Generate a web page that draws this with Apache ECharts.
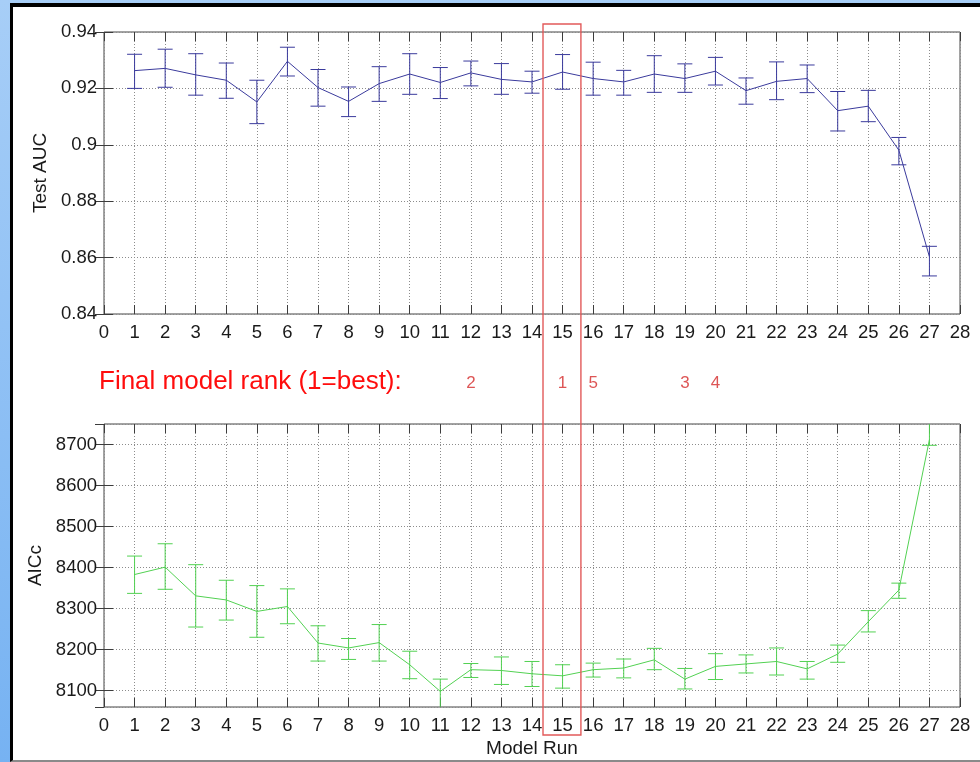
<!DOCTYPE html>
<html lang="en">
<head>
<meta charset="UTF-8">
<title>Model runs: Test AUC and AICc</title>
<style type="text/css">
  body {margin: 0px; background-color: #ffffff;}
  #frame {position: absolute; left: 0px; top: 0px; width: 980px; height: 762px;
    background: linear-gradient(to bottom, #a7cef7, #76b2f2);}
  #paper {position: absolute; left: 10px; top: 3px; width: 970px; height: 759px;
    box-sizing: border-box; background-color: #ffffff;
    border-left: 3px solid #000000; border-top: 4px solid #000000; border-bottom: 2px solid #8a8a8a;}
  #main {position: absolute; left: 0px; top: 0px; width: 980px; height: 762px;}
</style>
<script src="https://cdn.jsdelivr.net/npm/echarts@6/dist/echarts.min.js"></script>
</head>
<body>
<div id="frame"></div>
<div id="paper"></div>
<div id="main"></div>
<script type="text/javascript">
// model runs 1..27
var runs = [1, 2, 3, 4, 5, 6, 7, 8, 9, 10, 11, 12, 13, 14, 15, 16, 17, 18, 19, 20, 21, 22, 23, 24, 25, 26, 27];

// Test AUC (mean, lower and upper end of error bar)
var aucMean = [0.9263, 0.9271, 0.9248, 0.9229, 0.9152, 0.9296, 0.9203, 0.9154, 0.9217, 0.9251,
               0.9221, 0.9255, 0.9232, 0.9223, 0.9258, 0.9235, 0.9223, 0.9251, 0.9235, 0.9261,
               0.9192, 0.9225, 0.9235, 0.9121, 0.9137, 0.8981, 0.8603];
var aucLow  = [0.9200, 0.9204, 0.9176, 0.9165, 0.9075, 0.9244, 0.9137, 0.9100, 0.9154, 0.9179,
               0.9164, 0.9209, 0.9179, 0.9183, 0.9197, 0.9176, 0.9176, 0.9186, 0.9186, 0.9212,
               0.9144, 0.9160, 0.9185, 0.9049, 0.9082, 0.8929, 0.8535];
var aucHigh = [0.9321, 0.9339, 0.9323, 0.9290, 0.9229, 0.9346, 0.9267, 0.9205, 0.9277, 0.9323,
               0.9274, 0.9297, 0.9288, 0.9261, 0.9320, 0.9293, 0.9264, 0.9316, 0.9287, 0.9310,
               0.9237, 0.9294, 0.9283, 0.9189, 0.9193, 0.9026, 0.8640];

// AICc (mean, lower and upper end of error bar)
var aicMean = [8383, 8401, 8331, 8321, 8293, 8305, 8216, 8204, 8217, 8163,
               8098, 8151, 8149, 8141, 8136, 8151, 8155, 8175, 8128, 8159,
               8165, 8171, 8153, 8189, 8268, 8345, 8712];
var aicLow  = [8337, 8347, 8255, 8272, 8230, 8263, 8172, 8176, 8172, 8129,
               8058, 8132, 8115, 8110, 8106, 8133, 8131, 8151, 8104, 8127,
               8143, 8138, 8128, 8169, 8243, 8325, 8698];
var aicHigh = [8428, 8458, 8407, 8369, 8356, 8348, 8258, 8227, 8261, 8196,
               8128, 8166, 8182, 8171, 8163, 8167, 8177, 8203, 8154, 8190,
               8187, 8204, 8171, 8211, 8295, 8362, 8770];

// final model rank written under the runs
var rankRuns = [12, 15, 16, 19, 20];
var rankLabels = ['2', '1', '5', '3', '4'];

var FONT = 'Liberation Sans';
var blue = '#3a3a9c';
var green = '#52d152';

function pairs(xs, ys) {
    var out = [];
    for (var i = 0; i < xs.length; i++) out.push([xs[i], ys[i]]);
    return out;
}
function triples(xs, lo, hi) {
    var out = [];
    for (var i = 0; i < xs.length; i++) out.push([xs[i], lo[i], hi[i]]);
    return out;
}

function errorBar(color) {
    return function (params, api) {
        var x = api.value(0);
        var lo = api.coord([x, api.value(1)]);
        var hi = api.coord([x, api.value(2)]);
        var cs = params.coordSys;
        var top = cs.y, bottom = cs.y + cs.height;
        var half = 7.5;
        var st = {stroke: color, lineWidth: 1};
        var kids = [{type: 'line', shape: {x1: lo[0], y1: Math.max(hi[1], top), x2: lo[0], y2: Math.min(lo[1], bottom)}, style: st}];
        if (hi[1] >= top) kids.push({type: 'line', shape: {x1: hi[0] - half, y1: hi[1], x2: hi[0] + half, y2: hi[1]}, style: st});
        if (lo[1] <= bottom) kids.push({type: 'line', shape: {x1: lo[0] - half, y1: lo[1], x2: lo[0] + half, y2: lo[1]}, style: st});
        return {type: 'group', children: kids};
    };
}

var labelStyle = {fontFamily: FONT, fontSize: 18.5, color: '#1a1a1a'};
var dots = {show: true, lineStyle: {color: '#8c8c8c', type: [1, 2], width: 1}};
var tick = {show: true, inside: true, length: 9, lineStyle: {color: '#3c3c3c'}};

function xMain(grid, extra) {
    var a = {type: 'value', gridIndex: grid, min: 0, max: 28, interval: 1, position: 'bottom',
        axisLine: {show: false}, axisTick: tick, splitLine: dots,
        axisLabel: Object.assign({margin: 9}, labelStyle)};
    return Object.assign(a, extra || {});
}
function xTop(grid) {
    return {type: 'value', gridIndex: grid, min: 0, max: 28, interval: 1, position: 'top',
        axisLine: {show: false}, axisTick: tick, splitLine: {show: false}, axisLabel: {show: false}};
}
function yRight(grid, lo, hi, step) {
    var a = {type: 'value', gridIndex: grid, min: lo, max: hi, position: 'right',
        axisLine: {show: false}, axisTick: tick, splitLine: {show: false}, axisLabel: {show: false}};
    if (step) a.interval = step; else { a.minInterval = 100; a.maxInterval = 100; }
    return a;
}

var chart = echarts.init(document.getElementById('main'), null, {renderer: 'canvas'});

var option = {
    backgroundColor: 'transparent',
    animation: false,
    grid: [
        {left: 104, top: 32, width: 856, height: 282, show: true, borderColor: '#444', borderWidth: 1, backgroundColor: 'transparent'},
        {left: 104, top: 424, width: 856, height: 283, show: true, borderColor: '#444', borderWidth: 1, backgroundColor: 'transparent'},
        {left: 104, top: 365, width: 856, height: 36, show: false}
    ],
    xAxis: [
        xMain(0),
        xTop(0),
        xMain(1, {name: 'Model Run', nameLocation: 'middle', nameGap: 32,
            nameTextStyle: {fontFamily: FONT, fontSize: 19, color: '#1a1a1a'}}),
        xTop(1),
        {type: 'value', gridIndex: 2, min: 0, max: 28, show: false}
    ],
    yAxis: [
        {type: 'value', gridIndex: 0, min: 0.84, max: 0.94, interval: 0.02, position: 'left',
            name: 'Test AUC', nameLocation: 'middle', nameGap: 53,
            nameTextStyle: {fontFamily: FONT, fontSize: 19, color: '#1a1a1a'},
            axisLine: {show: false}, axisTick: tick, splitLine: dots,
            axisLabel: Object.assign({margin: 7}, labelStyle)},
        yRight(0, 0.84, 0.94, 0.02),
        {type: 'value', gridIndex: 1, min: 8060, max: 8750, minInterval: 100, maxInterval: 100, position: 'left',
            name: 'AICc', nameLocation: 'middle', nameGap: 52,
            nameTextStyle: {fontFamily: FONT, fontSize: 19, color: '#1a1a1a'},
            axisLine: {show: false}, axisTick: tick, splitLine: dots,
            axisLabel: Object.assign({margin: 7, showMinLabel: false, showMaxLabel: false,
                formatter: function (v) { return String(Math.round(v)); }}, labelStyle)},
        yRight(1, 8060, 8750, null),
        {type: 'value', gridIndex: 2, min: 0, max: 1, show: false}
    ],
    series: [
        {type: 'line', xAxisIndex: 0, yAxisIndex: 0, data: pairs(runs, aucMean), symbol: 'none',
            lineStyle: {color: blue, width: 1}, z: 3},
        {type: 'custom', xAxisIndex: 0, yAxisIndex: 0, data: triples(runs, aucLow, aucHigh),
            renderItem: errorBar(blue), encode: {x: 0, y: [1, 2]}, z: 3},
        {type: 'line', xAxisIndex: 2, yAxisIndex: 2, data: pairs(runs, aicMean), symbol: 'none',
            lineStyle: {color: green, width: 1}, z: 3},
        {type: 'custom', xAxisIndex: 2, yAxisIndex: 2, data: triples(runs, aicLow, aicHigh),
            renderItem: errorBar(green), encode: {x: 0, y: [1, 2]}, z: 3},
        {type: 'scatter', xAxisIndex: 4, yAxisIndex: 4, symbolSize: 1,
            itemStyle: {color: 'transparent'},
            data: rankRuns.map(function (r, i) { return [r, 0.5, rankLabels[i]]; }),
            label: {show: true, position: 'inside', formatter: function (p) { return p.value[2]; },
                fontFamily: FONT, fontSize: 17, color: '#d42a2a'}}
    ],
    graphic: [
        {type: 'text', id: 'rankTitle', left: 99, top: 369,
            style: {text: 'Final model rank (1=best):', fontFamily: FONT, fontSize: 26, fill: '#ff0d0d'}}
    ]
};
chart.setOption(option);

// red box marking the best model run, spanning both panels
var boxL = chart.convertToPixel({xAxisIndex: 0}, 14.36);
var boxR = chart.convertToPixel({xAxisIndex: 0}, 15.6);
chart.setOption({
    graphic: [
        {type: 'rect', id: 'bestBox', z: 10,
            shape: {x: boxL, y: 24, width: boxR - boxL, height: 711},
            style: {fill: 'none', stroke: '#e25a5a', lineWidth: 1.4}}
    ]
});
</script>
</body>
</html>
